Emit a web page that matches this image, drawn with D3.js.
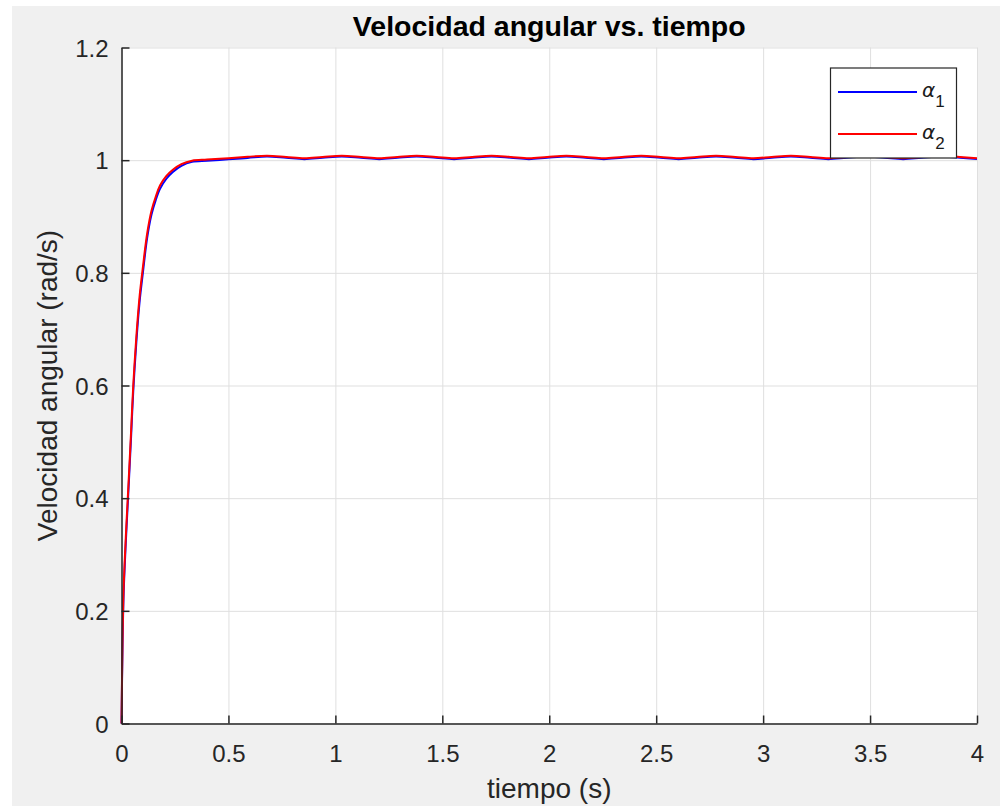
<!DOCTYPE html>
<html><head><meta charset="utf-8">
<script src="https://cdn.jsdelivr.net/npm/d3@7/dist/d3.min.js"></script>
<style>body{margin:0;background:#fff;} svg{display:block}</style>
</head><body><svg id="c" width="1000" height="806"></svg>
<script>
// ---- data ----
const time = [0, 0.005, 0.01, 0.02, 0.032, 0.045, 0.055, 0.07, 0.085, 0.10, 0.12, 0.14, 0.16, 0.18, 0.21, 0.24, 0.28, 0.33,
  0.40, 0.50, 0.59, 0.68, 0.77, 0.855, 0.94, 1.03, 1.12, 1.205, 1.29, 1.38, 1.47, 1.555, 1.64, 1.73, 1.82, 1.905, 1.99,
  2.08, 2.17, 2.255, 2.34, 2.43, 2.52, 2.605, 2.69, 2.78, 2.87, 2.955, 3.04, 3.13, 3.22, 3.305, 3.39, 3.48, 3.57, 3.655,
  3.74, 3.83, 3.92, 4.0];
const alpha1 = [0, 0.14, 0.23, 0.32, 0.41, 0.51, 0.59, 0.68, 0.75, 0.80, 0.862, 0.903, 0.929, 0.949, 0.967, 0.979, 0.990, 0.997,
  0.999, 1.0015, 1.004, 1.0065, 1.0042, 1.0018, 1.0042, 1.0065, 1.0042, 1.0018, 1.0042, 1.0065, 1.0042, 1.0018, 1.0042,
  1.0065, 1.0042, 1.0018, 1.0042, 1.0065, 1.0042, 1.0018, 1.0042, 1.0065, 1.0042, 1.0018, 1.0042, 1.0065, 1.0042, 1.0018,
  1.0042, 1.0065, 1.0042, 1.0018, 1.0042, 1.0065, 1.0042, 1.0018, 1.0042, 1.0065, 1.0042, 1.002];
const alpha2 = [0, 0.15, 0.24, 0.33, 0.42, 0.52, 0.60, 0.69, 0.76, 0.81, 0.87, 0.91, 0.935, 0.955, 0.972, 0.983, 0.993, 0.999,
  1.001, 1.0035, 1.006, 1.008, 1.0058, 1.0035, 1.0058, 1.008, 1.0058, 1.0035, 1.0058, 1.008, 1.0058, 1.0035, 1.0058,
  1.008, 1.0058, 1.0035, 1.0058, 1.008, 1.0058, 1.0035, 1.0058, 1.008, 1.0058, 1.0035, 1.0058, 1.008, 1.0058, 1.0035,
  1.0058, 1.008, 1.0058, 1.0035, 1.0058, 1.008, 1.0058, 1.0035, 1.0058, 1.008, 1.0058, 1.0036];
const xTicks = [0, 0.5, 1, 1.5, 2, 2.5, 3, 3.5, 4];
const xTickLabels = ["0", "0.5", "1", "1.5", "2", "2.5", "3", "3.5", "4"];
const yTicks = [0, 0.2, 0.4, 0.6, 0.8, 1, 1.2];
const yTickLabels = ["0", "0.2", "0.4", "0.6", "0.8", "1", "1.2"];
const seriesSubscripts = ["1", "2"];
const seriesColors = ["#0000ff", "#ff0000"];
const titleText = "Velocidad angular vs. tiempo";
const xLabelText = "tiempo (s)";
const yLabelText = "Velocidad angular (rad/s)";

// ---- layout ----
const W = 1000, H = 806;
const pL = 121.5, pR = 977, pT = 47.5, pB = 723.5;
const FONT = "'Liberation Sans', Arial, Helvetica, sans-serif";
const svg = d3.select("#c");

svg.append("rect").attr("x", 12).attr("y", 6).attr("width", W - 12).attr("height", H - 6).attr("fill", "#f0f0f0");
svg.append("rect").attr("x", pL).attr("y", pT).attr("width", pR - pL).attr("height", pB - pT).attr("fill", "#fff");

const x = d3.scaleLinear().domain([0, 4]).range([pL, pR]);
const y = d3.scaleLinear().domain([0, 1.2]).range([pB, pT]);

// grid
svg.append("g").attr("transform", `translate(0,${pB})`)
  .call(d3.axisBottom(x).tickValues(xTicks).tickSize(-(pB - pT)).tickFormat(""))
  .call(g => g.select(".domain").remove())
  .call(g => g.selectAll("line").attr("stroke", "#dfdfdf").attr("stroke-width", 1));
svg.append("g").attr("transform", `translate(${pL},0)`)
  .call(d3.axisLeft(y).tickValues(yTicks).tickSize(-(pR - pL)).tickFormat(""))
  .call(g => g.select(".domain").remove())
  .call(g => g.selectAll("line").attr("stroke", "#dfdfdf").attr("stroke-width", 1));

// data lines
const data = time.map((t, i) => ({t, a1: alpha1[i], a2: alpha2[i]}));
const keys = ["a1", "a2"];
keys.forEach((k, i) => {
  svg.append("path").datum(data)
    .attr("fill", "none").attr("stroke", seriesColors[i]).attr("stroke-width", 2)
    .attr("stroke-linejoin", "round")
    .attr("d", d3.line().x(d => x(d.t)).y(d => y(d[k])).curve(d3.curveCatmullRom.alpha(0.5)));
});

// axes
const xAxis = svg.append("g").attr("transform", `translate(0,${pB})`)
  .call(d3.axisBottom(x).tickValues(xTicks).tickFormat((d, i) => xTickLabels[i]).tickSizeInner(-8).tickSizeOuter(0).tickPadding(20));
const yAxis = svg.append("g").attr("transform", `translate(${pL},0)`)
  .call(d3.axisLeft(y).tickValues(yTicks).tickFormat((d, i) => yTickLabels[i]).tickSizeInner(-8).tickSizeOuter(0).tickPadding(13));
[xAxis, yAxis].forEach(g => {
  g.select(".domain").attr("stroke", "#262626").attr("stroke-width", 1.5);
  g.selectAll(".tick line").attr("stroke", "#262626").attr("stroke-width", 1.5);
  g.selectAll(".tick text").attr("fill", "#262626").style("font-family", FONT).style("font-size", "24px");
});
xAxis.selectAll(".tick text").attr("dy", null).attr("y", 38);
yAxis.selectAll(".tick text").attr("dy", "0.36em");

// title & labels
svg.append("text").attr("x", (pL + pR) / 2).attr("y", 36).attr("text-anchor", "middle")
  .style("font-family", FONT).style("font-size", "28.5px").style("font-weight", "bold").attr("fill", "#000").text(titleText);
svg.append("text").attr("x", (pL + pR) / 2).attr("y", 798).attr("text-anchor", "middle")
  .style("font-family", FONT).style("font-size", "28px").attr("fill", "#262626").text(xLabelText);
svg.append("text").attr("transform", `translate(57,${(pT + pB) / 2}) rotate(-90)`).attr("text-anchor", "middle")
  .style("font-family", FONT).style("font-size", "28px").attr("fill", "#262626").text(yLabelText);

// legend
const lg = svg.append("g").attr("transform", `translate(${pR - 147},${pT + 20})`);
lg.append("rect").attr("x", 0.5).attr("y", 0.5).attr("width", 126).attr("height", 90)
  .attr("fill", "#fff").attr("stroke", "#262626").attr("stroke-width", 1.2);
seriesSubscripts.forEach((s, i) => {
  const cy = 24.5 + i * 42;
  lg.append("line").attr("x1", 8).attr("x2", 87).attr("y1", cy).attr("y2", cy)
    .attr("stroke", seriesColors[i]).attr("stroke-width", 2);
  const t = lg.append("text").attr("x", 92).attr("y", cy + 5)
    .style("font-family", "'DejaVu Sans', 'Liberation Sans', sans-serif").attr("fill", "#1a1a1a");
  t.append("tspan").style("font-size", "20px").style("font-style", "italic").text("\u03b1");
  t.append("tspan").attr("dy", 10).style("font-family", FONT).style("font-size", "17px").text(s);
});
</script></body></html>
